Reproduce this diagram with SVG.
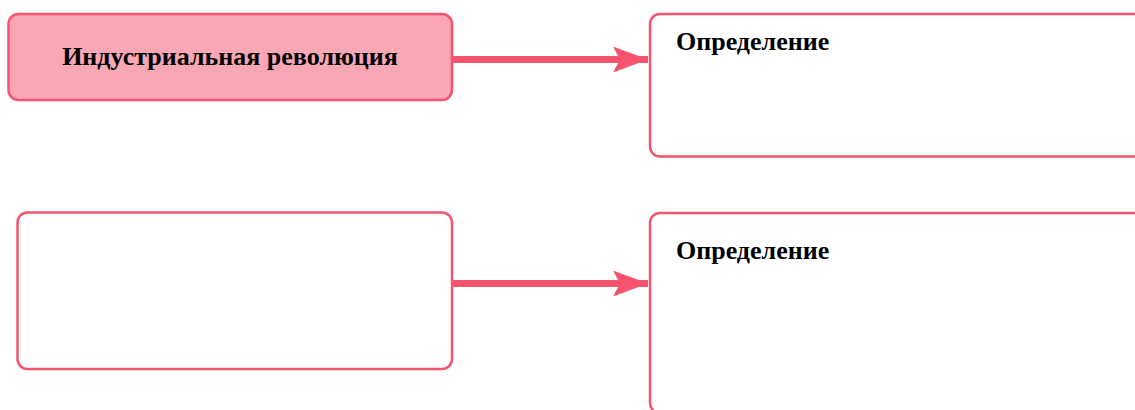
<svg xmlns="http://www.w3.org/2000/svg" width="1135" height="410" viewBox="0 0 1135 410">
<style>
.box{stroke:#f4546e;stroke-width:2.5;}
.lbl{font-family:"Liberation Serif",serif;font-weight:bold;font-size:26px;fill:#000;}
.conn{stroke:#f4546e;stroke-width:7;fill:none;}
</style>
<defs>
<marker id="arr" markerUnits="userSpaceOnUse" markerWidth="40" markerHeight="30" refX="36" refY="13" orient="auto">
<path d="M1,0 L36,13 L1,26 L8,13 Z" fill="#f4546e"/>
</marker>
</defs>
<rect width="1135" height="410" fill="#fff"/>
<g id="connectors">
<path class="conn" d="M453,59.5 L648,59.5" marker-end="url(#arr)"/>
<path class="conn" d="M453,283.5 L648,283.5" marker-end="url(#arr)"/>
</g>
<g id="node-industrial">
<rect class="box" x="8.5" y="14" width="443.5" height="86" rx="10" fill="#f9a7b4"/>
<text class="lbl" x="230" y="65" text-anchor="middle">Индустриальная революция</text>
</g>
<g id="node-def1">
<rect class="box" x="650" y="14" width="500" height="142.5" rx="10" fill="#fff"/>
<text class="lbl" x="676" y="50">Определение</text>
</g>
<g id="node-empty">
<rect class="box" x="17.5" y="212.5" width="434.5" height="156.5" rx="10" fill="#fff"/>
</g>
<g id="node-def2">
<rect class="box" x="650" y="213" width="500" height="200" rx="10" fill="#fff"/>
<text class="lbl" x="676" y="259">Определение</text>
</g>
</svg>
